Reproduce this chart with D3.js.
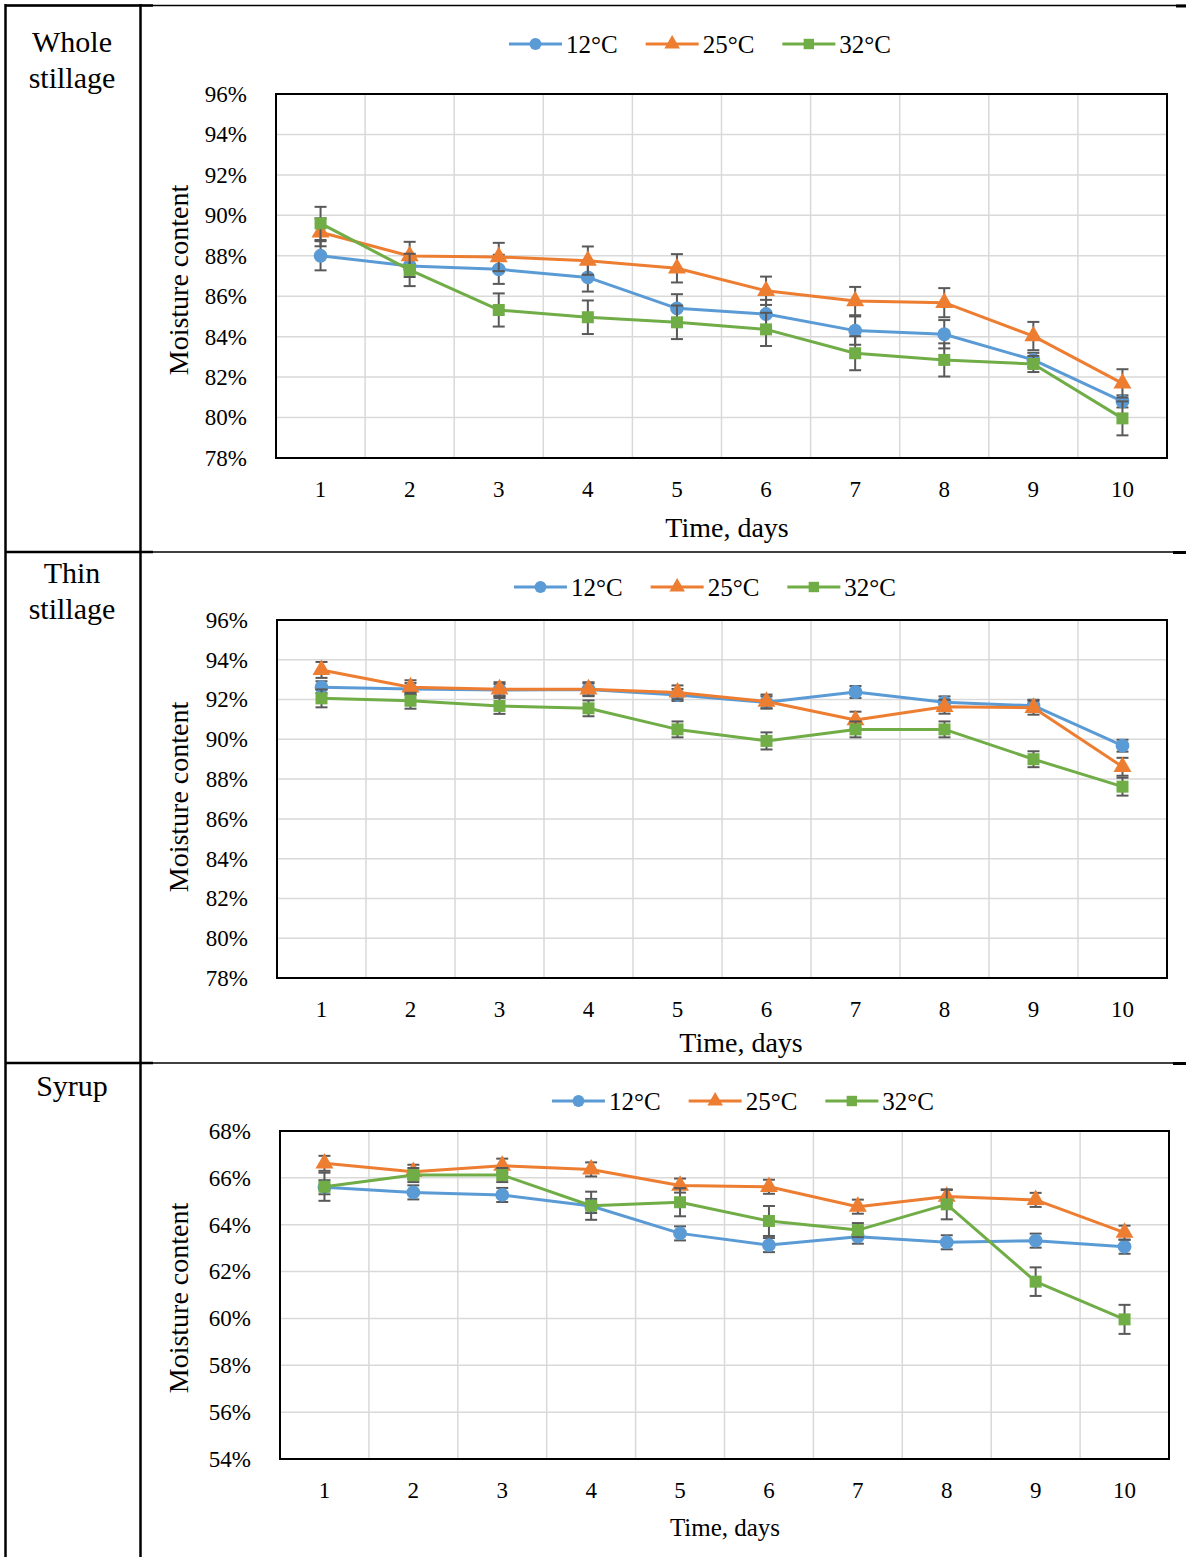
<!DOCTYPE html>
<html>
<head>
<meta charset="utf-8">
<script src="https://cdn.jsdelivr.net/npm/d3@7.9.0/dist/d3.min.js"></script>
<style>
  body { margin: 0; background: #fff; }
  svg text { font-family: "Liberation Serif", "Times New Roman", serif !important; fill: #000; }
</style>
</head>
<body>
<svg id="chart" width="1186" height="1557"></svg>
<script>
// x categories
const days = [1, 2, 3, 4, 5, 6, 7, 8, 9, 10];
const seriesNames = ['12°C', '25°C', '32°C'];

// Whole stillage, moisture %
const whole12 = [88.0, 87.5, 87.33, 86.93, 85.4, 85.12, 84.3, 84.12, 82.85, 80.8];
const whole25 = [89.16, 87.99, 87.94, 87.76, 87.38, 86.27, 85.76, 85.68, 84.03, 81.69];
const whole32 = [89.6, 87.3, 85.32, 84.96, 84.71, 84.36, 83.18, 82.85, 82.65, 79.96];
const whole12Err = [0.72, 0.55, 0.72, 0.7, 0.7, 0.7, 0.7, 0.7, 0.35, 0.3];
const whole25Err = [0.69, 0.7, 0.7, 0.7, 0.7, 0.7, 0.7, 0.72, 0.7, 0.7];
const whole32Err = [0.82, 0.8, 0.82, 0.83, 0.83, 0.82, 0.84, 0.82, 0.4, 0.84];

// Thin stillage
const thin12 = [92.62, 92.53, 92.48, 92.51, 92.23, 91.86, 92.38, 91.86, 91.69, 89.68];
const thin25 = [93.49, 92.62, 92.52, 92.52, 92.36, 91.9, 90.97, 91.64, 91.59, 88.62];
const thin32 = [92.06, 91.94, 91.68, 91.56, 90.5, 89.92, 90.5, 90.5, 89.0, 87.62];
const thin12Err = [0.3, 0.3, 0.3, 0.3, 0.3, 0.3, 0.3, 0.3, 0.3, 0.3];
const thin25Err = [0.4, 0.35, 0.35, 0.35, 0.35, 0.35, 0.42, 0.35, 0.35, 0.45];
const thin32Err = [0.45, 0.4, 0.4, 0.4, 0.4, 0.43, 0.4, 0.4, 0.4, 0.45];

// Syrup
const syrup12 = [65.6, 65.38, 65.27, 64.8, 63.63, 63.13, 63.49, 63.25, 63.32, 63.06];
const syrup25 = [66.62, 66.26, 66.52, 66.36, 65.67, 65.62, 64.77, 65.2, 65.06, 63.66];
const syrup32 = [65.62, 66.12, 66.12, 64.81, 64.96, 64.16, 63.77, 64.87, 61.57, 59.96];
const syrup12Err = [0.3, 0.3, 0.3, 0.3, 0.3, 0.3, 0.3, 0.3, 0.3, 0.3];
const syrup25Err = [0.32, 0.3, 0.3, 0.3, 0.3, 0.3, 0.3, 0.28, 0.3, 0.3];
const syrup32Err = [0.6, 0.3, 0.3, 0.6, 0.6, 0.64, 0.3, 0.64, 0.61, 0.62];

// y tick labels
const wholeTicks = [78, 80, 82, 84, 86, 88, 90, 92, 94, 96];
const thinTicks = [78, 80, 82, 84, 86, 88, 90, 92, 94, 96];
const syrupTicks = [54, 56, 58, 60, 62, 64, 66, 68];

const colors = ['#5B9BD5', '#ED7D31', '#70AD47'];
const symbols = [d3.symbolCircle, d3.symbolTriangle, d3.symbolSquare];
const symbolSizes = [150, 140, 144];
const serif = '"Liberation Serif", "Times New Roman", serif';

const svg = d3.select('#chart');

function drawPanel(cfg) {
  let g = svg.append('g');
  let x = d3.scaleBand().domain(days).range([cfg.left, cfg.right]);
  let y = d3.scaleLinear().domain([cfg.ticks[0], cfg.ticks[cfg.ticks.length - 1]]).range([cfg.bottom, cfg.top]);
  let cx = (d) => x(d) + x.bandwidth() / 2;

  // gridlines
  g.append('g').selectAll('line').data(cfg.ticks.slice(1, -1)).join('line')
    .attr('x1', cfg.left).attr('x2', cfg.right)
    .attr('y1', (d) => y(d)).attr('y2', (d) => y(d))
    .attr('stroke', '#D9D9D9').attr('stroke-width', 1.5);
  g.append('g').selectAll('line').data(days.slice(1)).join('line')
    .attr('x1', (d) => x(d)).attr('x2', (d) => x(d))
    .attr('y1', cfg.top).attr('y2', cfg.bottom)
    .attr('stroke', '#D9D9D9').attr('stroke-width', 1.5);

  // y axis labels
  let yAxis = g.append('g')
    .attr('transform', `translate(${cfg.left - 26},0)`)
    .call(d3.axisLeft(y).tickValues(cfg.ticks).tickFormat((d) => d + '%').tickSize(0));
  yAxis.attr('font-family', null).attr('font-size', null);
  yAxis.select('.domain').remove();
  yAxis.selectAll('text').style('font-family', serif).style('font-size', '23px').attr('fill', '#000');

  // x axis labels
  let xAxis = g.append('g')
    .attr('transform', `translate(0,${cfg.bottom + 20})`)
    .call(d3.axisBottom(x).tickSize(0));
  xAxis.attr('font-family', null).attr('font-size', null);
  xAxis.select('.domain').remove();
  xAxis.selectAll('text').style('font-family', serif).style('font-size', '23px').attr('fill', '#000');

  // series
  cfg.series.forEach((vals, si) => {
    let errs = cfg.errors[si];
    let line = d3.line().x((d, i) => cx(days[i])).y((d) => y(d));
    g.append('path').datum(vals)
      .attr('d', line)
      .attr('fill', 'none')
      .attr('stroke', colors[si])
      .attr('stroke-width', 3)
      .attr('stroke-linejoin', 'round');

    let eb = g.append('g').attr('stroke', '#595959').attr('stroke-width', 2);
    vals.forEach((v, i) => {
      let px = cx(days[i]);
      eb.append('line').attr('x1', px).attr('x2', px).attr('y1', y(v - errs[i])).attr('y2', y(v + errs[i]));
      eb.append('line').attr('x1', px - 6).attr('x2', px + 6).attr('y1', y(v - errs[i])).attr('y2', y(v - errs[i]));
      eb.append('line').attr('x1', px - 6).attr('x2', px + 6).attr('y1', y(v + errs[i])).attr('y2', y(v + errs[i]));
    });

    g.append('g').selectAll('path').data(vals).join('path')
      .attr('d', d3.symbol().type(symbols[si]).size(symbolSizes[si]))
      .attr('transform', (d, i) => `translate(${cx(days[i])},${y(d)})`)
      .attr('fill', colors[si]);
  });

  // plot frame
  g.append('rect')
    .attr('x', cfg.left).attr('y', cfg.top)
    .attr('width', cfg.right - cfg.left).attr('height', cfg.bottom - cfg.top)
    .attr('fill', 'none').attr('stroke', '#000').attr('stroke-width', 2);

  // axis titles
  g.append('text')
    .attr('x', cfg.titleX).attr('y', cfg.titleY)
    .attr('text-anchor', 'middle').attr('dominant-baseline', 'central')
    .style('font-family', serif).style('font-size', cfg.titleSize + 'px')
    .text('Time, days');
  g.append('text')
    .attr('transform', `translate(178,${cfg.yTitleY}) rotate(-90)`)
    .attr('text-anchor', 'middle').attr('dominant-baseline', 'central')
    .style('font-family', serif).style('font-size', '28px')
    .text('Moisture content');

  // legend
  let legend = g.append('g');
  let items = seriesNames.map((name, si) => {
    let item = legend.append('g');
    item.append('line').attr('x1', 0).attr('x2', 53).attr('y1', 0).attr('y2', 0)
      .attr('stroke', colors[si]).attr('stroke-width', 3);
    item.append('path')
      .attr('d', d3.symbol().type(symbols[si]).size(symbolSizes[si] * 0.75))
      .attr('transform', 'translate(26.5,0)')
      .attr('fill', colors[si]);
    let t = item.append('text').attr('x', 57).attr('y', 0)
      .attr('dominant-baseline', 'central')
      .style('font-family', serif).style('font-size', '25px').text(name);
    return { item, w: 57 + t.node().getComputedTextLength() };
  });
  let gap = 28;
  let total = d3.sum(items, (d) => d.w) + gap * (items.length - 1);
  let pos = cfg.legendX - total / 2;
  items.forEach((d) => {
    d.item.attr('transform', `translate(${pos},${cfg.legendY})`);
    pos += d.w + gap;
  });
}

drawPanel({
  left: 276, right: 1167, top: 94, bottom: 458,
  ticks: wholeTicks, series: [whole12, whole25, whole32], errors: [whole12Err, whole25Err, whole32Err],
  legendX: 700, legendY: 44, titleX: 727, titleY: 527, titleSize: 28, yTitleY: 280
});
drawPanel({
  left: 277, right: 1167, top: 620, bottom: 978,
  ticks: thinTicks, series: [thin12, thin25, thin32], errors: [thin12Err, thin25Err, thin32Err],
  legendX: 705, legendY: 587, titleX: 741, titleY: 1042, titleSize: 28, yTitleY: 797
});
drawPanel({
  left: 280, right: 1169, top: 1131, bottom: 1459,
  ticks: syrupTicks, series: [syrup12, syrup25, syrup32], errors: [syrup12Err, syrup25Err, syrup32Err],
  legendX: 743, legendY: 1101, titleX: 725, titleY: 1527, titleSize: 25, yTitleY: 1298
});

// table borders and row labels
let table = svg.append('g').attr('stroke', '#000');
table.append('line').attr('x1', 5).attr('x2', 1186).attr('y1', 5.5).attr('y2', 5.5).attr('stroke-width', 1.5);
table.append('line').attr('x1', 5).attr('x2', 153).attr('y1', 5.5).attr('y2', 5.5).attr('stroke-width', 2.5);
table.append('line').attr('x1', 1176).attr('x2', 1186).attr('y1', 6).attr('y2', 6).attr('stroke-width', 3);
table.append('line').attr('x1', 5.5).attr('x2', 5.5).attr('y1', 4).attr('y2', 1557).attr('stroke-width', 2.5);
table.append('line').attr('x1', 140.5).attr('x2', 140.5).attr('y1', 4).attr('y2', 1557).attr('stroke-width', 2.5);
[552, 1063].forEach((ry) => {
  table.append('line').attr('x1', 5).attr('x2', 153).attr('y1', ry).attr('y2', ry).attr('stroke-width', 2.5);
  table.append('line').attr('x1', 153).attr('x2', 1186).attr('y1', ry).attr('y2', ry).attr('stroke-width', 1.5);
  table.append('line').attr('x1', 1173).attr('x2', 1186).attr('y1', ry + 0.5).attr('y2', ry + 0.5).attr('stroke-width', 3);
});

const rowLabels = [['Whole', 'stillage'], ['Thin', 'stillage'], ['Syrup']];
const rowLabelY = [41, 572, 1085];
rowLabels.forEach((lines, r) => {
  lines.forEach((s, k) => {
    svg.append('text')
      .attr('x', 72).attr('y', rowLabelY[r] + k * 36)
      .attr('text-anchor', 'middle').attr('dominant-baseline', 'central')
      .style('font-family', serif).style('font-size', '30px').text(s);
  });
});
</script>
</body>
</html>
